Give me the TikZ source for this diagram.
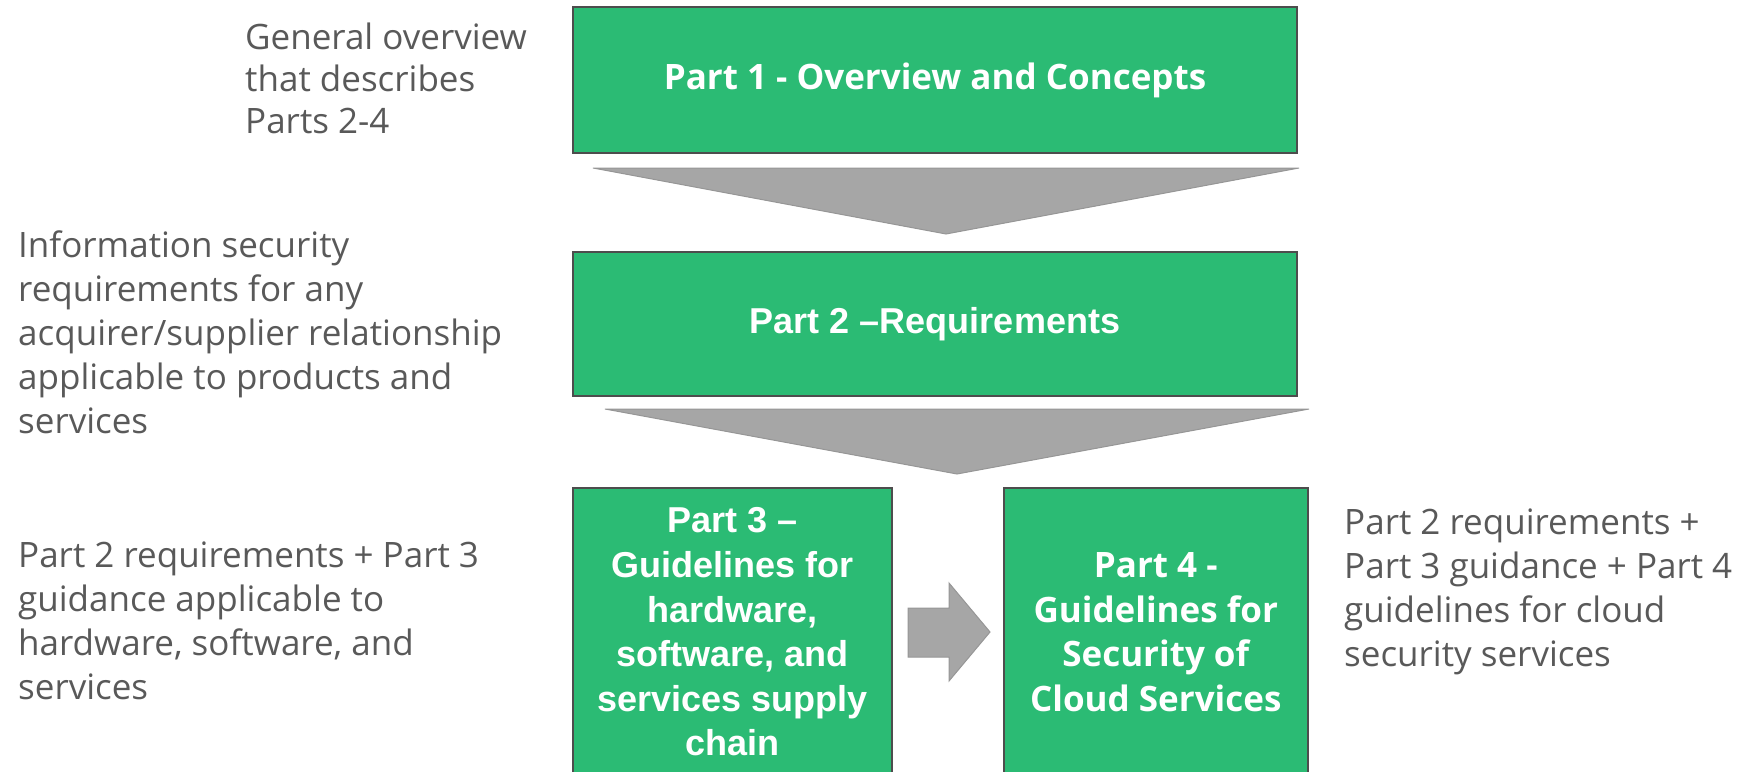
\documentclass[tikz,border=0pt]{standalone}
\usepackage{fontspec}
\setmainfont{Open Sans}
\newfontfamily\arialfont{Liberation Sans}
\usetikzlibrary{calc}
\definecolor{boxgreen}{HTML}{2BBB74}
\definecolor{boxedge}{HTML}{4D4D4D}
\definecolor{arrowgray}{HTML}{A6A6A6}
\definecolor{arrowedge}{HTML}{969696}
\definecolor{notegray}{HTML}{595959}
\begin{document}
\begin{tikzpicture}[x=1pt,y=-1pt,
  partbox/.style={draw=boxedge,line width=2pt,fill=boxgreen,text=white,align=center,inner sep=0pt,anchor=north west},
  humfont/.style={font=\fontsize{35}{44.6}\selectfont\bfseries},
  arifont/.style={font=\fontsize{36}{44.6}\selectfont\arialfont\bfseries},
  note/.style={text=notegray,align=left,inner sep=0pt,anchor=base west,font=\fontsize{35}{44}\selectfont},
  bigarrow/.style={fill=arrowgray,draw=arrowedge,line width=1pt,line join=miter}]
\useasboundingbox (0,0) rectangle (1752,771);
\clip (0,0) rectangle (1752,771);
\node[partbox,humfont,minimum width=724pt,minimum height=146pt] (p1) at (572,6) {Part 1 - Overview and Concepts};
\node[partbox,arifont,minimum width=724pt,minimum height=144pt] (p2) at (572,251) {Part 2 –Requirements};
\node[partbox,arifont,minimum width=319pt,minimum height=288pt] (p3) at (572,487) {Part 3 –\\Guidelines for\\hardware,\\software, and\\services supply\\chain};
\node[partbox,humfont,minimum width=303.5pt,minimum height=288pt] (p4) at (1003,487) {Part 4 -\\Guidelines for\\Security of\\Cloud Services};
% down chevrons
\coordinate (c1l) at ($(p1.south west)+(21,14)$);
\coordinate (c1r) at ($(p1.south east)+(1,14)$);
\coordinate (c1t) at ($(p1.south)+(11,80)$);
\draw[bigarrow] (c1l) -- (c1r) -- (c1t) -- cycle;
\coordinate (c2l) at ($(p2.south west)+(33,12)$);
\coordinate (c2r) at ($(p2.south east)+(11,12)$);
\coordinate (c2t) at ($(p2.south)+(22,77)$);
\draw[bigarrow] (c2l) -- (c2r) -- (c2t) -- cycle;
% right arrow
\draw[bigarrow] ($(p3.east)+(15,-24)$) -- ($(p3.east)+(56,-24)$) -- ($(p3.east)+(56,-49)$) -- ($(p3.east)+(97,0)$) -- ($(p3.east)+(56,49)$) -- ($(p3.east)+(56,25)$) -- ($(p3.east)+(15,25)$) -- cycle;
% notes (anchored at the baseline of their last line)
\node[note,font=\fontsize{35}{42}\selectfont] (n1) at (245,133) {General overview\\that describes\\Parts 2-4};
\node[note] (n2) at (18,433) {Information security\\requirements for any\\acquirer/supplier relationship\\applicable to products and\\services};
\node[note] (n3) at (18,699) {Part 2 requirements + Part 3\\guidance applicable to\\hardware, software, and\\services};
\node[note] (n4) at (1344,666) {Part 2 requirements +\\Part 3 guidance + Part 4\\guidelines for cloud\\security services};
\end{tikzpicture}
\end{document}
